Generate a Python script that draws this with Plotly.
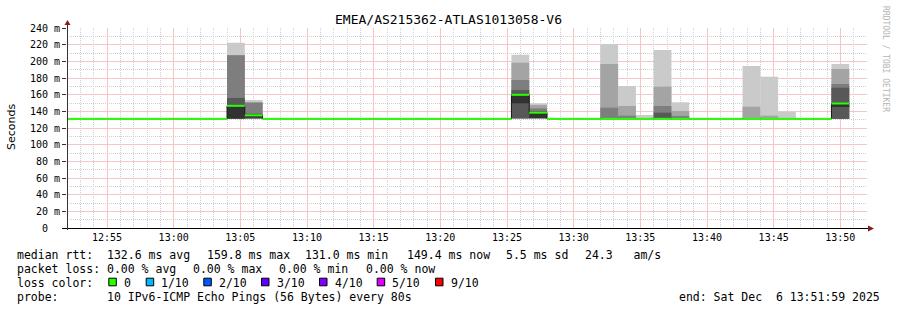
import plotly.graph_objects as go
import pandas as pd

# ------------------------------------------------------------------ data
title_text = "EMEA/AS215362-ATLAS1013058-V6"
start_time = "2025-12-06 12:52:00"
end_time = "2025-12-06 13:52:00"
step_seconds = 80

# median rtt (ms) for each 80 s step, step 0 starts at start_time
median_ms = [
    131.0, 131.0, 131.0, 131.0, 131.0, 131.0, 131.0, 131.0, 131.0,
    146.6, 135.2,
    131.0, 131.0, 131.0, 131.0, 131.0, 131.0, 131.0, 131.0, 131.0, 131.0,
    131.0, 131.0, 131.0, 131.0,
    159.8, 138.4,
    131.0, 131.0, 131.0, 131.0, 131.0, 131.0, 131.0, 131.0, 131.0, 131.0,
    131.0, 131.0, 131.0, 131.0, 131.0, 131.0,
    149.4,
    None,
]

# steps that show visible smoke, and their 10 sorted ping times (ms)
smoke_steps = [9, 10, 25, 26, 30, 31, 32, 33, 34, 38, 39, 40, 43]
smoke_pings = [
    [130.9, 131.0, 131.1, 131.2, 131.3, 146.6, 156.0, 207.2, 207.4, 222.4],
    [130.9, 131.0, 131.2, 131.5, 132.5, 135.2, 137.0, 150.4, 151.0, 153.6],
    [131.0, 131.3, 131.5, 131.6, 149.6, 159.8, 165.6, 177.6, 198.4, 208.0],
    [131.2, 131.4, 131.6, 131.8, 131.9, 138.4, 140.5, 143.6, 147.6, 149.6],
    [131.0, 131.0, 131.0, 131.0, 131.2, 131.5, 131.6, 144.4, 196.8, 220.8],
    [131.0, 131.0, 131.0, 131.0, 131.0, 131.2, 131.5, 134.8, 146.4, 170.4],
    [131.0, 131.0, 131.0, 131.0, 131.0, 131.1, 131.2, 131.3, 131.5, 135.6],
    [131.0, 131.0, 131.0, 131.0, 131.2, 131.5, 138.4, 146.4, 169.6, 213.6],
    [131.0, 131.0, 131.0, 131.0, 131.0, 131.2, 131.3, 134.4, 140.4, 150.8],
    [131.0, 131.0, 131.0, 131.0, 131.0, 131.2, 131.3, 131.4, 145.6, 194.4],
    [131.0, 131.0, 131.0, 131.0, 131.0, 131.1, 131.2, 131.3, 134.8, 181.6],
    [131.0, 131.0, 131.0, 131.0, 131.0, 131.1, 131.2, 131.3, 131.5, 139.6],
    [131.0, 131.0, 131.0, 131.0, 145.2, 149.4, 168.4, 172.8, 190.8, 196.8],
]

y_tick_values = [0, 20, 40, 60, 80, 100, 120, 140, 160, 180, 200, 220, 240]
y_tick_labels = ["0\u00a0\u00a0", "20 m", "40 m", "60 m", "80 m", "100 m", "120 m",
                 "140 m", "160 m", "180 m", "200 m", "220 m", "240 m"]

legend_median = ["median rtt:", "132.6 ms avg", "159.8 ms max", "131.0 ms min",
                 "149.4 ms now", "5.5 ms sd", "24.3   am/s"]
legend_loss = ["packet loss:", "0.00 % avg", "0.00 % max", "0.00 % min", "0.00 % now"]
loss_color_title = "loss color:"
loss_labels = ["0", "1/10", "2/10", "3/10", "4/10", "5/10", "9/10"]
loss_colors = ["#26ff00", "#00b8ff", "#0059ff", "#5e00ff", "#7e00ff", "#dd00ff", "#ff0000"]
probe_label = "probe:"
probe_text = "10 IPv6-ICMP Echo Pings (56 Bytes) every 80s"
end_text = "end: Sat Dec  6 13:51:59 2025"
watermark = "RRDTOOL / TOBI OETIKER"
y_title = "Seconds"

# --------------------------------------------------------------- styling
MONO = "DejaVu Sans Mono"
SANS = "DejaVu Sans"
band_colors = ["#cacaca", "#a4a4a4", "#7e7e7e", "#585858", "#323232"]
MAJOR_GRID = "#f6c6c6"
MINOR_GRID = "#d0d0d0"
W, H = 897, 310
L, R, T, B = 67, 30, 28, 82
PW, PH = W - L - R, H - T - B
Y_MAX = 240.0


def px_x(px):
    return (px - L) / PW


def px_y(py):
    return (T + PH - py) / PH


t0 = pd.Timestamp(start_time)
step = pd.Timedelta(seconds=step_seconds)

fig = go.Figure()

# smoke bands (outermost lightest, innermost darkest)
centers = [t0 + step * (k + 0.5) for k in smoke_steps]
for b in range(5):
    lows = [p[b] for p in smoke_pings]
    highs = [p[9 - b] for p in smoke_pings]
    fig.add_trace(go.Bar(
        x=centers, y=[h - l for h, l in zip(highs, lows)], base=lows,
        width=step_seconds * 1000, marker=dict(color=band_colors[b], line=dict(width=0)),
        hoverinfo="skip", showlegend=False))

# median: thin dark step line
valid = [k for k, m in enumerate(median_ms) if m is not None]
mx = [t0 + step * k for k in valid] + [t0 + step * (valid[-1] + 1)]
my = [median_ms[k] for k in valid] + [median_ms[valid[-1]]]
fig.add_trace(go.Scatter(x=mx, y=my, mode="lines", line=dict(color="#1a1a1a", width=1, shape="hv"),
                         hoverinfo="skip", showlegend=False))

# median: loss-coloured horizontal bars
gx, gy = [], []
for k in valid:
    gx += [t0 + step * k, t0 + step * (k + 1), None]
    gy += [median_ms[k], median_ms[k], None]
fig.add_trace(go.Scatter(x=gx, y=gy, mode="lines", line=dict(color=loss_colors[0], width=2),
                         hoverinfo="skip", showlegend=False))

shapes = []
# axes lines + arrows
arrow_col = "#8b1a1a"
shapes.append(dict(type="line", xref="paper", yref="paper", xsizemode="pixel", xanchor=0,
                   x0=-5, x1=PW + 2, y0=px_y(T + PH + 0.5), y1=px_y(T + PH + 0.5),
                   line=dict(color="black", width=1), layer="above"))
shapes.append(dict(type="line", xref="paper", yref="paper", ysizemode="pixel", yanchor=0,
                   x0=px_x(L + 0.5), x1=px_x(L + 0.5), y0=-2, y1=PH + 3,
                   line=dict(color="#333333", width=1), layer="above"))
shapes.append(dict(type="path", xref="paper", yref="paper", xsizemode="pixel", ysizemode="pixel",
                   xanchor=px_x(L + 0.5), yanchor=1, path="M-3,3 L3,3 L0,8 Z",
                   fillcolor=arrow_col, line=dict(width=0), layer="above"))
shapes.append(dict(type="path", xref="paper", yref="paper", xsizemode="pixel", ysizemode="pixel",
                   xanchor=1, yanchor=px_y(T + PH + 0.5), path="M1,-3 L1,3 L7,0 Z",
                   fillcolor=arrow_col, line=dict(width=0), layer="above"))

annotations = []


def txt(px, py, s, size=11.5, anchor="left", color="black", angle=0, family=MONO):
    annotations.append(dict(xref="paper", yref="paper", x=px_x(px), y=px_y(py), text=s,
                            showarrow=False, xanchor=anchor, yanchor="middle", textangle=angle,
                            font=dict(family=family, size=size, color=color),
                            borderpad=0, borderwidth=0))


txt(448.5, 19, title_text, size=13, anchor="center")
txt(11, 127, y_title, size=11, anchor="center", angle=-90, family=SANS)
txt(886, 59, watermark, size=8, anchor="center", angle=90, color="#b4b4b4")

row1, row2, row3, row4 = 254.5, 268.7, 282.5, 297
for s, x in zip(legend_median, [16.7, 107.3, 207.3, 305, 407.3, 506, 585]):
    txt(x, row1, s)
for s, x in zip(legend_loss, [16.7, 107.3, 193.3, 279.3, 365.7]):
    txt(x, row2, s)
txt(16.7, row3, loss_color_title)
for s, c, x in zip(loss_labels, loss_colors, [108.3, 145.7, 203.3, 261, 319, 376.7, 435]):
    shapes.append(dict(type="rect", xref="paper", yref="paper", xsizemode="pixel",
                       ysizemode="pixel", xanchor=px_x(x), yanchor=px_y(row3 - 0.5),
                       x0=0.5, x1=8, y0=-3.8, y1=3.8, fillcolor=c,
                       line=dict(color="black", width=1), layer="above"))
    txt(x + 15.7, row3, s)
txt(16.7, row4, probe_label)
txt(107.3, row4, probe_text)
txt(880, row4, end_text, anchor="right")

fig.update_layout(
    width=W, height=H, margin=dict(l=L, r=R, t=T, b=B, pad=0),
    paper_bgcolor="white", plot_bgcolor="white", barmode="overlay", showlegend=False,
    shapes=shapes, annotations=annotations,
    xaxis=dict(type="date", range=[start_time, end_time], zeroline=False,
               showline=False, ticks="", tickformat="%H:%M", dtick=5 * 60 * 1000,
               tick0="2025-12-06 12:55:00", tickfont=dict(family=MONO, size=10, color="black"),
               showgrid=True, gridcolor=MAJOR_GRID, gridwidth=1, griddash="solid",
               minor=dict(dtick=60 * 1000, tick0="2025-12-06 12:55:00", showgrid=True,
                          gridcolor=MINOR_GRID, gridwidth=1, griddash="1px,1px", ticks=""),
               ticklabelstandoff=2, fixedrange=True),
    yaxis=dict(range=[0, Y_MAX], zeroline=False, showline=False,
               tickmode="array", tickvals=y_tick_values, ticktext=y_tick_labels,
               ticks="outside", ticklen=4, tickcolor="#333333", tickwidth=1,
               showgrid=True, gridcolor=MAJOR_GRID, gridwidth=1, griddash="solid",
               minor=dict(dtick=10, tick0=0, showgrid=True, gridcolor=MINOR_GRID,
                          gridwidth=1, griddash="1px,1px", ticks=""),
               tickfont=dict(family=MONO, size=10, color="black"), fixedrange=True),
)

fig.write_html("out.html")
